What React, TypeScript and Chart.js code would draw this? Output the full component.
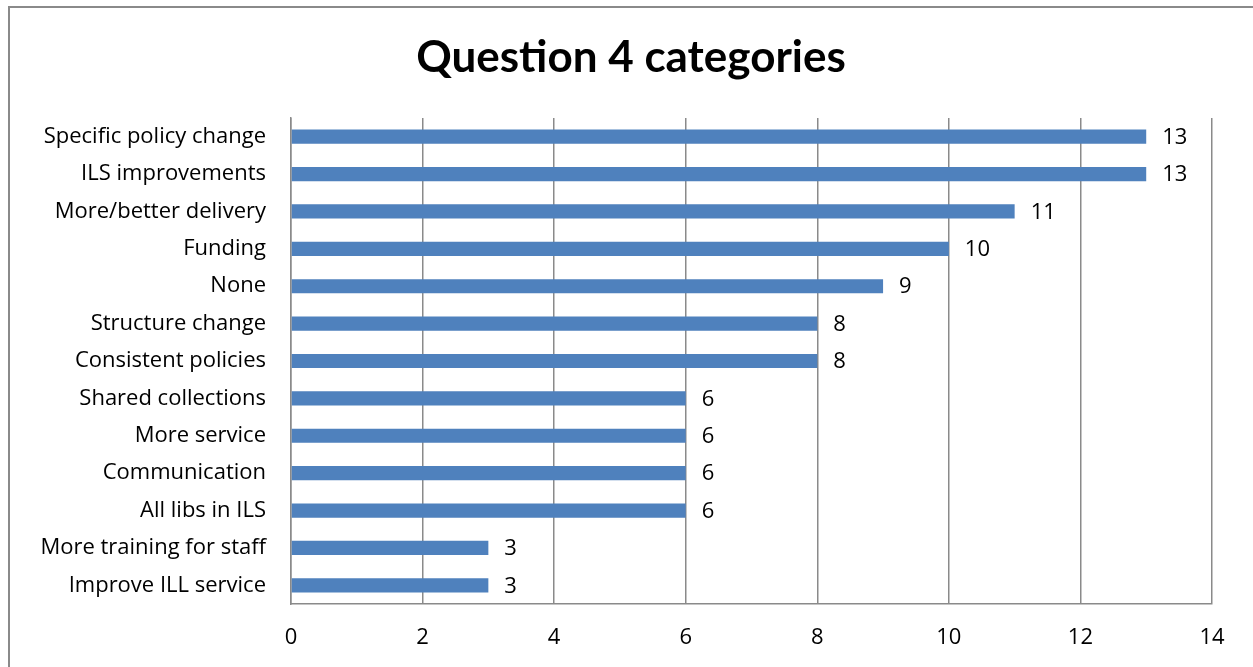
import React, { useEffect, useRef } from "react";
import { Chart, registerables } from "chart.js";

Chart.register(...registerables);

const categories = [
  "Specific policy change",
  "ILS improvements",
  "More/better delivery",
  "Funding",
  "None",
  "Structure change",
  "Consistent policies",
  "Shared collections",
  "More service",
  "Communication",
  "All libs in ILS",
  "More training for staff",
  "Improve ILL service",
];
const counts = [13, 13, 11, 10, 9, 8, 8, 6, 6, 6, 6, 3, 3];
const xTickMax = 14;
const xTickStep = 2;
const titleText = "Question 4 categories";

const FONT = "'Open Sans', Lato, 'DejaVu Sans', sans-serif";
const TITLE_FONT = "Lato, 'Open Sans', 'DejaVu Sans', sans-serif";

const frame = {
  id: "frame",
  beforeDraw(chart: any) {
    const ctx = chart.ctx;
    ctx.save();
    ctx.fillStyle = "#ffffff";
    ctx.fillRect(0, 0, chart.width, chart.height);
    ctx.strokeStyle = "#8a8a8a";
    ctx.lineWidth = 2;
    ctx.strokeRect(9, 7, chart.width + 10, chart.height + 10);
    ctx.fillStyle = "#000000";
    ctx.font = `bold 44px ${TITLE_FONT}`;
    ctx.textAlign = "center";
    ctx.textBaseline = "middle";
    ctx.fillText(titleText, 631, 58);
    ctx.restore();
  },
};

const valueLabels = {
  id: "valueLabels",
  afterDatasetsDraw(chart: any) {
    const ctx = chart.ctx;
    const meta = chart.getDatasetMeta(0);
    ctx.save();
    ctx.fillStyle = "#000000";
    ctx.font = `22px ${FONT}`;
    ctx.textAlign = "left";
    ctx.textBaseline = "middle";
    meta.data.forEach((bar: any, i: number) => {
      ctx.fillText(String(counts[i]), bar.x + 16, bar.y + 1);
    });
    ctx.restore();
  },
};

export default function App() {
  const ref = useRef<HTMLCanvasElement>(null);
  useEffect(() => {
    document.body.style.margin = "0";
    const chart = new Chart(ref.current!, {
      type: "bar",
      data: {
        labels: categories,
        datasets: [
          {
            data: counts,
            backgroundColor: "#4f81bd",
            borderColor: "#4f81bd",
            borderWidth: 0,
            barPercentage: 0.38,
            categoryPercentage: 1,
          },
        ],
      },
      options: {
        indexAxis: "y",
        animation: false,
        responsive: false,
        maintainAspectRatio: false,
        layout: { padding: { left: 0, right: 41, top: 118, bottom: 0 } },
        plugins: {
          legend: { display: false },
          tooltip: { enabled: false },
          title: { display: false },
        },
        scales: {
          x: {
            min: 0,
            max: xTickMax,
            z: 1,
            ticks: {
              stepSize: xTickStep,
              color: "#000000",
              font: { family: FONT, size: 22 },
              padding: 21,
              maxRotation: 0,
            },
            grid: { color: "#8a8a8a", lineWidth: 1.5, drawTicks: false },
            border: { color: "#8a8a8a", width: 1.5 },
            afterFit(scale: any) {
              scale.height = 63;
            },
          },
          y: {
            z: 1,
            ticks: {
              color: "#000000",
              font: { family: FONT, size: 22 },
              padding: 25,
              autoSkip: false,
            },
            grid: { display: false, drawTicks: false },
            border: { color: "#8a8a8a", width: 1.5 },
            afterFit(scale: any) {
              scale.width = 291;
            },
          },
        },
      },
      plugins: [frame, valueLabels],
    });
    return () => chart.destroy();
  }, []);
  return <canvas ref={ref} width={1253} height={667} style={{ display: "block" }} />;
}
